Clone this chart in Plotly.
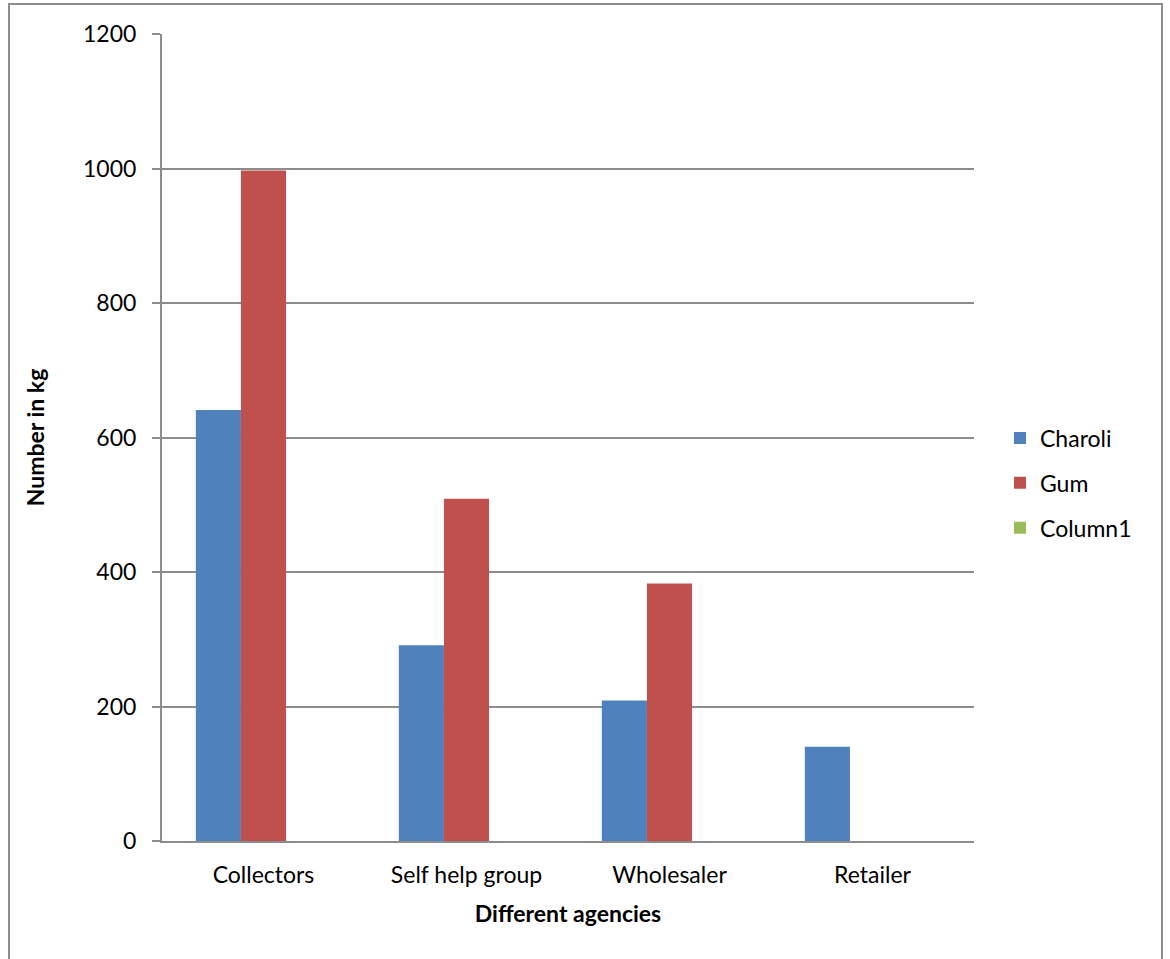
import plotly.graph_objects as go

categories = ["Collectors", "Self help group", "Wholesaler", "Retailer"]
charoli = [641, 291, 209, 140]
gum = [997, 509, 383, 0]
column1 = [0, 0, 0, 0]
y_ticks = [0, 200, 400, 600, 800, 1000, 1200]

FONT = "Lato"
FS = 23
L, R, T, B = 162, 196, 34, 118
W, H = 1170, 959
pw, ph = W - L - R, H - T - B

fig = go.Figure()
series = [("Charoli", charoli, "#4F81BD"), ("Gum", gum, "#C0504D"), ("Column1", column1, "#9BBB59")]
for name, vals, col in series:
    fig.add_trace(go.Bar(x=categories, y=vals, name=name, marker=dict(color=col, line=dict(width=0)),
                         legendgroup=name))

def px_x(p):
    return (p - L) / pw

def px_y(p):
    return (H - B - p) / ph

fig.add_shape(type="rect", xref="paper", yref="paper",
              x0=px_x(9), x1=px_x(1162), y0=px_y(975), y1=px_y(4),
              line=dict(color="#8c8c8c", width=2), fillcolor="rgba(0,0,0,0)", layer="below")

fig.update_layout(
    width=W, height=H,
    margin=dict(l=L, r=R, t=T, b=B),
    paper_bgcolor="white", plot_bgcolor="white",
    barmode="group", bargap=1.5 / 4.5, bargroupgap=0,
    font=dict(family=FONT, size=FS, color="black"),
    showlegend=True,
    legend=dict(x=px_x(1000), y=px_y(483), xanchor="left", yanchor="middle",
                font=dict(family=FONT, size=FS, color="black"),
                tracegroupgap=12, bgcolor="rgba(0,0,0,0)"),
    xaxis=dict(
        title=dict(text="<b>Different agencies</b>", font=dict(family=FONT, size=FS), standoff=19),
        showline=True, linecolor="#8c8c8c", linewidth=2,
        ticks="", showgrid=False, tickfont=dict(family=FONT, size=FS),
        ticklabelstandoff=12,
    ),
    yaxis=dict(
        title=dict(text="<b>Number in kg</b>", font=dict(family=FONT, size=FS), standoff=32),
        range=[0, 1200], tickvals=y_ticks, ticktext=[str(v) for v in y_ticks],
        showline=True, linecolor="#8c8c8c", linewidth=2,
        ticks="outside", ticklen=8, tickcolor="#8c8c8c", tickwidth=2,
        showgrid=True, gridcolor="#8c8c8c", gridwidth=2,
        zeroline=False, tickfont=dict(family=FONT, size=FS),
        ticklabelstandoff=11,
    ),
)

fig.write_html("out.html")
